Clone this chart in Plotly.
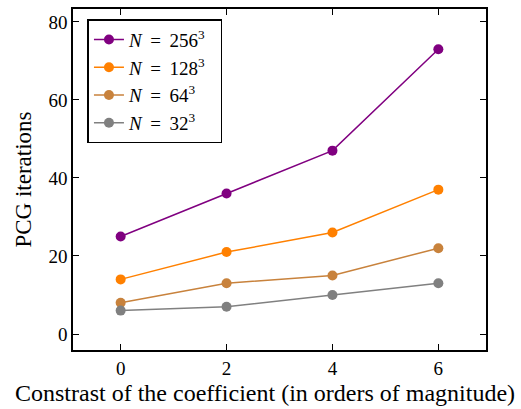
import plotly.graph_objects as go

# Contrast of the coefficient (orders of magnitude)
contrast = [0, 2, 4, 6]

# PCG iteration counts per grid size
iters_256 = [25, 36, 47, 73]
iters_128 = [14, 21, 26, 37]
iters_64 = [8, 13, 15, 22]
iters_32 = [6, 7, 10, 13]

EQ = "&#8201; = &#8201;"
PAD = "&nbsp;&nbsp;"
series = [
    (f"<i>N</i>{EQ}256<sup>3</sup>{PAD}", iters_256, "#800080"),
    (f"<i>N</i>{EQ}128<sup>3</sup>{PAD}", iters_128, "#ff8000"),
    (f"<i>N</i>{EQ}64<sup>3</sup>{PAD}", iters_64, "#c8823c"),
    (f"<i>N</i>{EQ}32<sup>3</sup>{PAD}", iters_32, "#808080"),
]

FONT = "Liberation Serif"

fig = go.Figure()
for name, ys, color in series:
    fig.add_trace(go.Scatter(
        x=contrast, y=ys, name=name, mode="lines+markers",
        line=dict(color=color, width=1.5),
        marker=dict(color=color, size=10),
    ))

axis_common = dict(
    showline=True, linecolor="black", linewidth=1.5, mirror="ticks",
    ticks="inside", ticklen=6, tickwidth=1.2, tickcolor="black",
    showgrid=False, zeroline=False,
    tickfont=dict(family=FONT, size=19, color="black"),
)

fig.update_layout(
    width=521, height=409,
    margin=dict(l=73, r=35, t=7, b=59),
    paper_bgcolor="white", plot_bgcolor="white",
    font=dict(family=FONT, size=19, color="black"),
    showlegend=True,
    legend=dict(
        x=0.035, y=0.97, xanchor="left", yanchor="top",
        bordercolor="black", borderwidth=1.5, bgcolor="white",
        font=dict(family=FONT, size=19), tracegroupgap=0,
    ),
    xaxis=dict(
        range=[-0.9, 6.9], tickvals=[0, 2, 4, 6],
        **axis_common,
    ),
    yaxis=dict(
        range=[-4.1, 83.3], tickvals=[0, 20, 40, 60, 80],
        title=dict(text="PCG iterations", font=dict(family=FONT, size=23), standoff=10),
        **axis_common,
    ),
    annotations=[dict(
        text="Constrast of the coefficient (in orders of magnitude)",
        xref="paper", yref="paper", x=0.465, y=-0.125,
        xanchor="center", yanchor="middle", showarrow=False,
        font=dict(family=FONT, size=24, color="black"),
    )],
)

fig.write_html("out.html")
